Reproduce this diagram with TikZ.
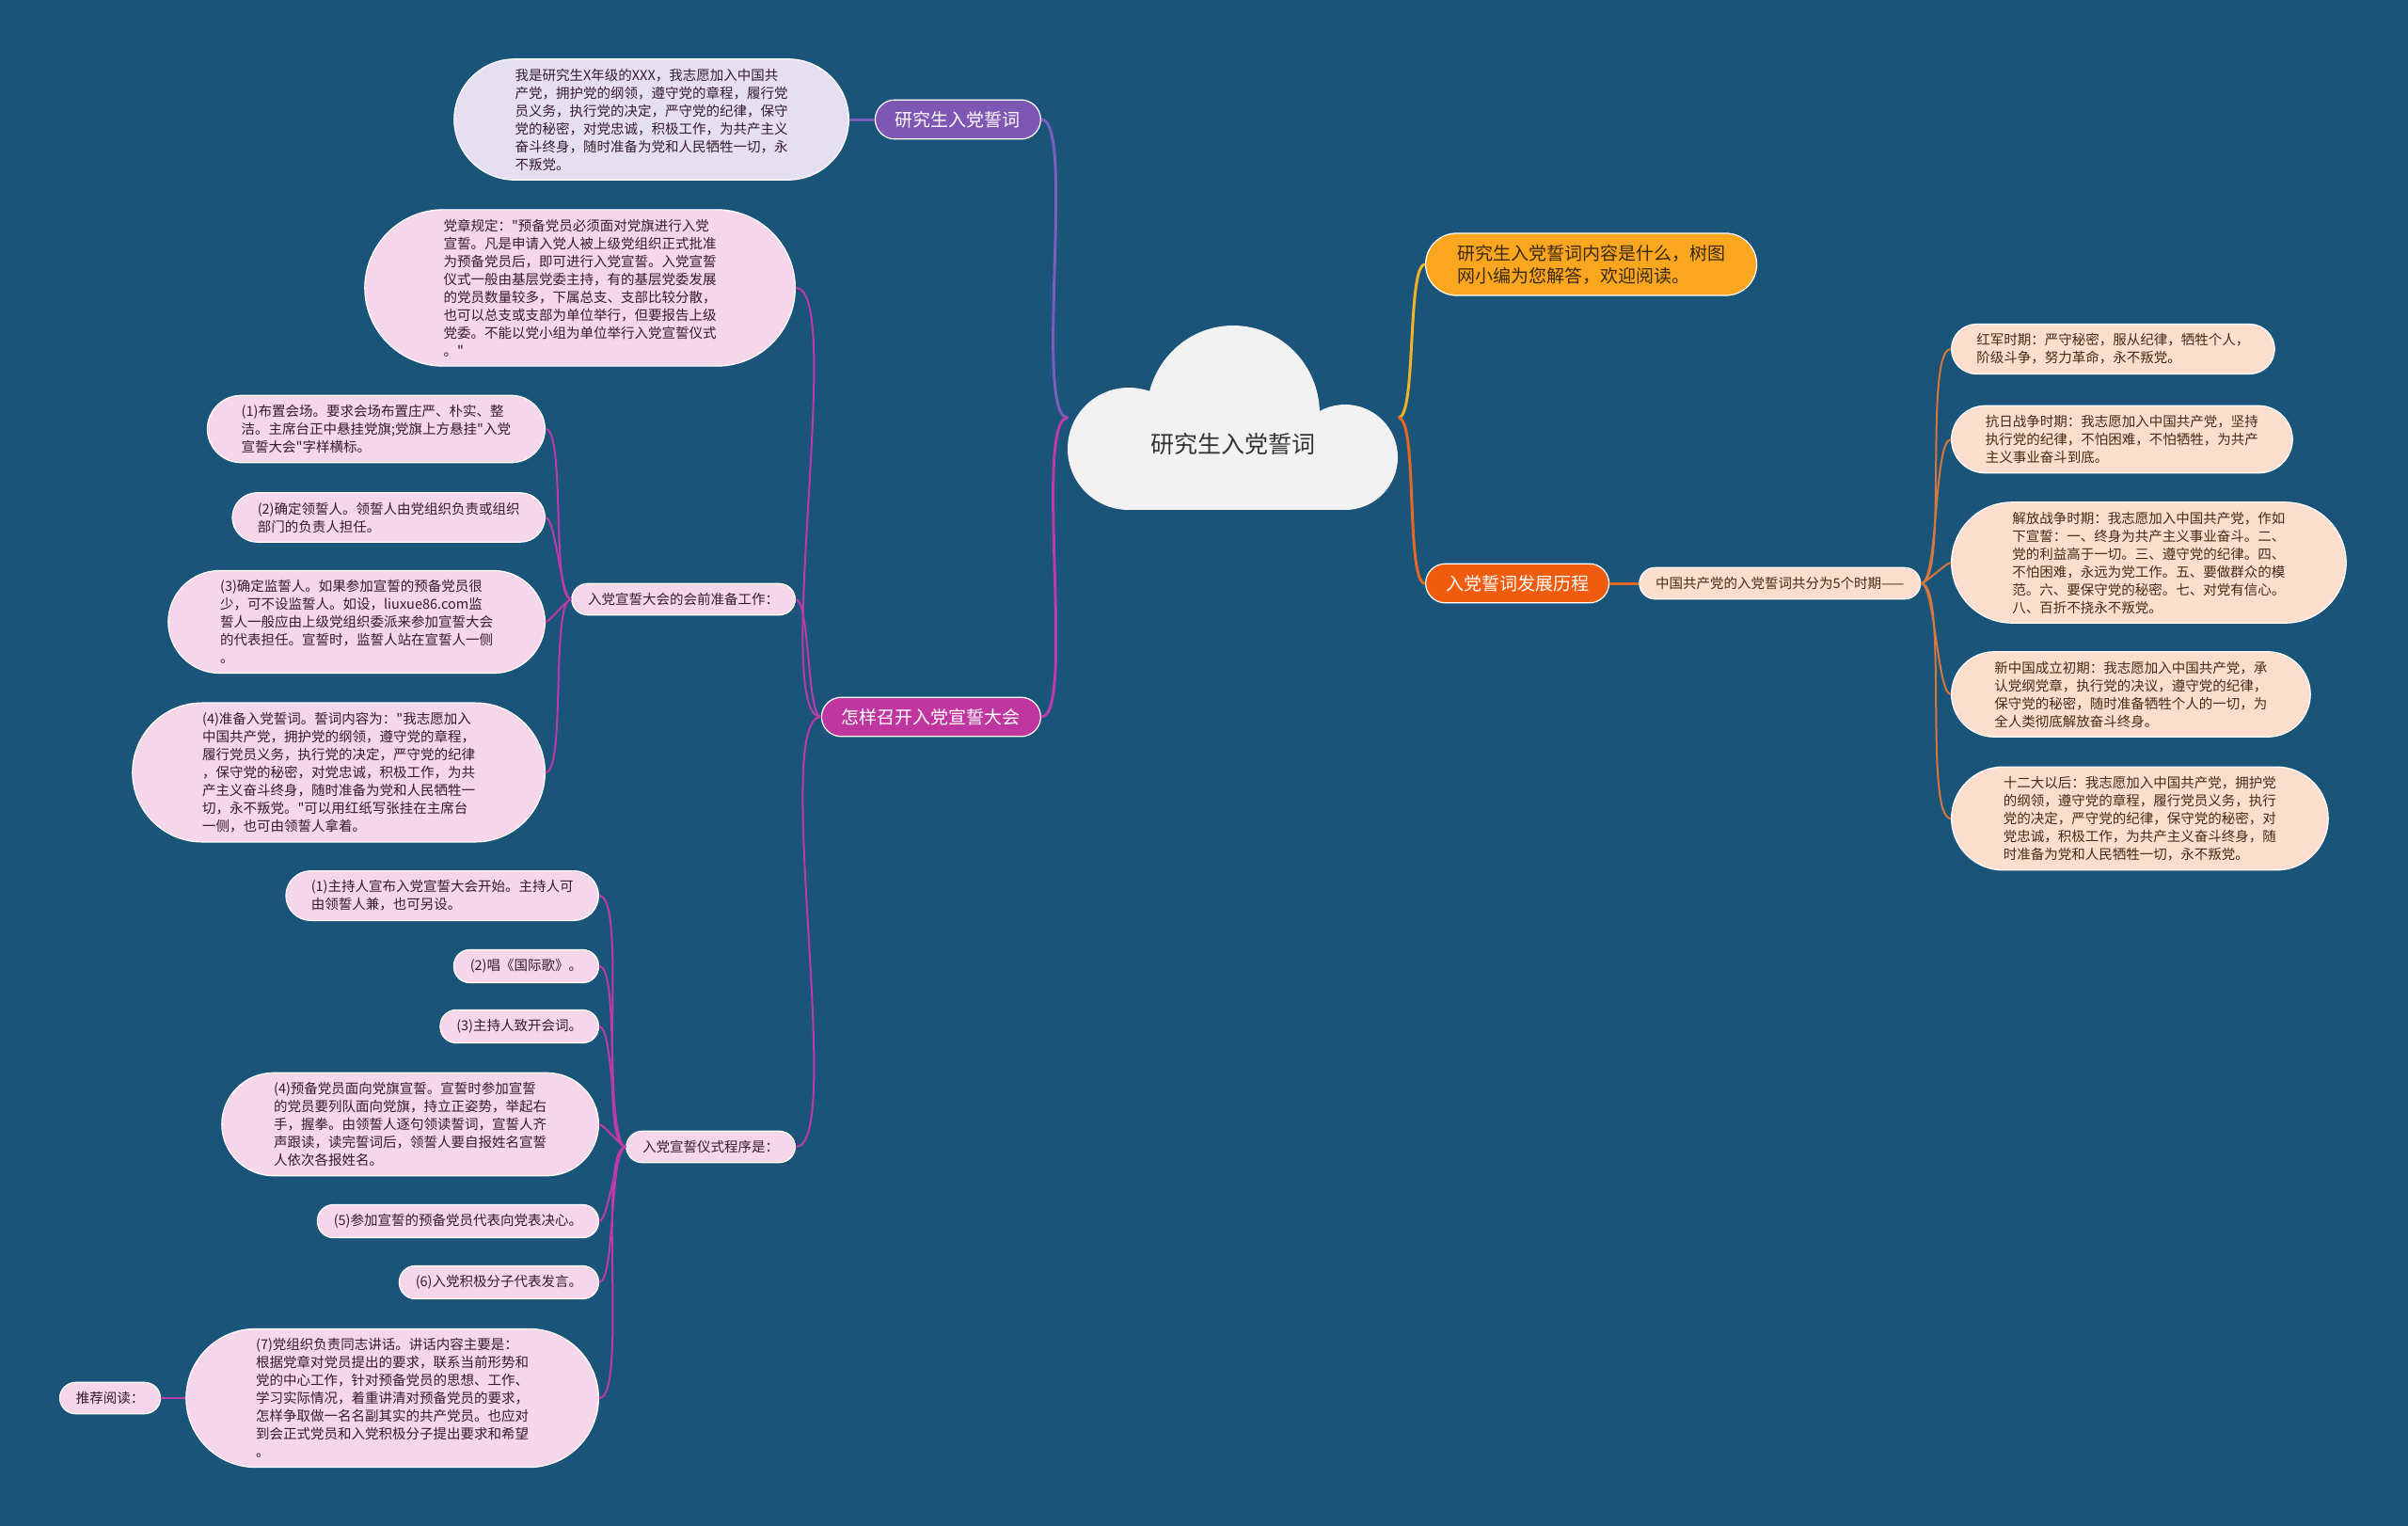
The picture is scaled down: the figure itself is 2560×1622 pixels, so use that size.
\documentclass[tikz,border=0pt]{standalone}
\usepackage{fontspec}
\newfontfamily\cjk{Noto Sans CJK SC}
\usepackage{tikz}
\usetikzlibrary{positioning}

\definecolor{bgblue}{RGB}{27,84,121}
\definecolor{cloudgray}{RGB}{242,242,242}
\definecolor{oathpurple}{RGB}{126,86,180}
\definecolor{oathlilac}{RGB}{230,223,242}
\definecolor{meetmagenta}{RGB}{192,54,160}
\definecolor{meetpink}{RGB}{245,214,234}
\definecolor{introorange}{RGB}{250,166,30}
\definecolor{historange}{RGB}{240,92,14}
\definecolor{histpeach}{RGB}{252,222,206}
\definecolor{linkpurple}{RGB}{124,92,190}
\definecolor{linkmagenta}{RGB}{190,58,168}
\definecolor{linkyellow}{RGB}{242,178,40}
\definecolor{linkorange}{RGB}{228,104,36}
\definecolor{linkbrown}{RGB}{214,120,62}
\definecolor{inkpink}{RGB}{52,28,46}
\definecolor{inkpeach}{RGB}{72,42,26}
\definecolor{inkdark}{RGB}{58,42,16}

\begin{document}
\begin{tikzpicture}[x=1pt, y=-1pt, node distance=31pt,
    every node/.style={font=\cjk},
    topic/.style={rectangle, draw=white, line width=1.2pt, rounded corners={12pt*#1+9pt},
      inner xsep={12pt*#1+9.5pt}, inner ysep=12pt, text=white, font=\cjk\fontsize{19}{24}\selectfont},
    topic/.default=1,
    leaf/.style={rectangle, draw=white, line width=1.2pt, rounded corners={9.5pt*#1+7.5pt},
      inner xsep={9.5pt*#1+7.8pt}, inner ysep=10pt, align=left, font=\cjk\fontsize{14.5}{19}\selectfont},
    leaf/.default=1,
    pinkleaf/.style={leaf=#1, fill=meetpink, text=inkpink, anchor=east},
    pinkleaf/.default=1,
    peachleaf/.style={leaf=#1, fill=histpeach, text=inkpeach, anchor=west},
    peachleaf/.default=1,
    lwire/.style={line width=2pt, out=180, in=0, looseness=.3},
    rwire/.style={line width=2pt, out=0, in=180, looseness=.3}]

  % page and background
  \useasboundingbox (0,0) rectangle (2560,1622);
  \fill[bgblue] (0,0) rectangle (2560,1622);

  % the cloud
  \fill[cloudgray] (1200,477) circle[radius=65pt];
  \fill[cloudgray] (1311,440) ellipse[x radius=92pt, y radius=94pt];
  \fill[cloudgray] (1430,486) circle[radius=56pt];
  \fill[cloudgray] (1200,470) rectangle (1430,542);
  \node[font=\cjk\fontsize{25}{30}\selectfont, text=black!80, minimum width=351pt, minimum height=196pt,
    text height=78pt, text depth=3pt] (root) at (1311,444) {研究生入党誓词};

  % left: oath
  \node[topic, fill=oathpurple, anchor=east] (oath) at (1107,127) {研究生入党誓词};
  \node[leaf=6, fill=oathlilac, text=inkpink, anchor=east] (oathtext) at (903,127) {我是研究生X年级的XXX，我志愿加入中国共\\产党，拥护党的纲领，遵守党的章程，履行党\\员义务，执行党的决定，严守党的纪律，保守\\党的秘密，对党忠诚，积极工作，为共产主义\\奋斗终身，随时准备为党和人民牺牲一切，永\\不叛党。};

  % left: meeting
  \node[topic, fill=meetmagenta, anchor=east] (meet) at (1107,762) {怎样召开入党宣誓大会};
  \node[pinkleaf=8] (rule) at (846,306) {党章规定："预备党员必须面对党旗进行入党\\宣誓。凡是申请入党人被上级党组织正式批准\\为预备党员后，即可进行入党宣誓。入党宣誓\\仪式一般由基层党委主持，有的基层党委发展\\的党员数量较多，下属总支、支部比较分散，\\也可以总支或支部为单位举行，但要报告上级\\党委。不能以党小组为单位举行入党宣誓仪式\\。"};
  \node[pinkleaf] (prep) at (846,637) {入党宣誓大会的会前准备工作：};
  \node[pinkleaf] (rite) at (846,1219) {入党宣誓仪式程序是：};

  \node[pinkleaf=3] (prepa) at (580,456) {(1)布置会场。要求会场布置庄严、朴实、整\\洁。主席台正中悬挂党旗;党旗上方悬挂"入党\\宣誓大会"字样横标。};
  \node[pinkleaf=2] (prepb) at (580,550) {(2)确定领誓人。领誓人由党组织负责或组织\\部门的负责人担任。};
  \node[pinkleaf=5] (prepc) at (580,661) {(3)确定监誓人。如果参加宣誓的预备党员很\\少，可不设监誓人。如设，liuxue86.com监\\誓人一般应由上级党组织委派来参加宣誓大会\\的代表担任。宣誓时，监誓人站在宣誓人一侧\\。};
  \node[pinkleaf=7] (prepd) at (580,821) {(4)准备入党誓词。誓词内容为："我志愿加入\\中国共产党，拥护党的纲领，遵守党的章程，\\履行党员义务，执行党的决定，严守党的纪律\\，保守党的秘密，对党忠诚，积极工作，为共\\产主义奋斗终身，随时准备为党和人民牺牲一\\切，永不叛党。"可以用红纸写张挂在主席台\\一侧，也可由领誓人拿着。};

  \node[pinkleaf=2] (ritea) at (637,952) {(1)主持人宣布入党宣誓大会开始。主持人可\\由领誓人兼，也可另设。};
  \node[pinkleaf] (riteb) at (637,1027) {(2)唱《国际歌》。};
  \node[pinkleaf] (ritec) at (637,1091) {(3)主持人致开会词。};
  \node[pinkleaf=5] (rited) at (637,1195) {(4)预备党员面向党旗宣誓。宣誓时参加宣誓\\的党员要列队面向党旗，持立正姿势，举起右\\手，握拳。由领誓人逐句领读誓词，宣誓人齐\\声跟读，读完誓词后，领誓人要自报姓名宣誓\\人依次各报姓名。};
  \node[pinkleaf] (ritee) at (637,1298) {(5)参加宣誓的预备党员代表向党表决心。};
  \node[pinkleaf] (ritef) at (637,1363) {(6)入党积极分子代表发言。};
  \node[pinkleaf=7] (riteg) at (637,1486) {(7)党组织负责同志讲话。讲话内容主要是：\\根据党章对党员提出的要求，联系当前形势和\\党的中心工作，针对预备党员的思想、工作、\\学习实际情况，着重讲清对预备党员的要求，\\怎样争取做一名名副其实的共产党员。也应对\\到会正式党员和入党积极分子提出要求和希望\\。};
  \node[pinkleaf, left=26pt of riteg] (more) {推荐阅读：};

  % right: intro and history
  \node[topic=2, fill=introorange, text=inkdark, align=left, anchor=west] (intro) at (1515,281) {研究生入党誓词内容是什么，树图\\网小编为您解答，欢迎阅读。};
  \node[topic, fill=historange, anchor=west] (hist) at (1515,620) {入党誓词发展历程};
  \node[leaf, fill=histpeach, text=inkpeach, right=31pt of hist] (five) {中国共产党的入党誓词共分为5个时期——};

  \node[peachleaf=2] (hista) at (2074,371) {红军时期：严守秘密，服从纪律，牺牲个人，\\阶级斗争，努力革命，永不叛党。};
  \node[peachleaf=3] (histb) at (2074,467) {抗日战争时期：我志愿加入中国共产党，坚持\\执行党的纪律，不怕困难，不怕牺牲，为共产\\主义事业奋斗到底。};
  \node[peachleaf=6] (histc) at (2074,598) {解放战争时期：我志愿加入中国共产党，作如\\下宣誓：一、终身为共产主义事业奋斗。二、\\党的利益高于一切。三、遵守党的纪律。四、\\不怕困难，永远为党工作。五、要做群众的模\\范。六、要保守党的秘密。七、对党有信心。\\八、百折不挠永不叛党。};
  \node[peachleaf=4] (histd) at (2074,738) {新中国成立初期：我志愿加入中国共产党，承\\认党纲党章，执行党的决议，遵守党的纪律，\\保守党的秘密，随时准备牺牲个人的一切，为\\全人类彻底解放奋斗终身。};
  \node[peachleaf=5] (histe) at (2074,870) {十二大以后：我志愿加入中国共产党，拥护党\\的纲领，遵守党的章程，履行党员义务，执行\\党的决定，严守党的纪律，保守党的秘密，对\\党忠诚，积极工作，为共产主义奋斗终身，随\\时准备为党和人民牺牲一切，永不叛党。};

  % connectors
  \draw[lwire, linkpurple, line width=3pt] (root.west) to (oath.east);
  \draw[lwire, linkmagenta, line width=3pt] (root.west) to (meet.east);
  \draw[rwire, linkyellow, line width=3pt] (root.east) to (intro.west);
  \draw[rwire, linkorange, line width=3pt] (root.east) to (hist.west);

  \draw[lwire, linkpurple, line width=3pt] (oath.west) to (oathtext.east);

  \draw[lwire, linkmagenta] (meet.west) to (rule.east);
  \draw[lwire, linkmagenta] (meet.west) to (prep.east);
  \draw[lwire, linkmagenta] (meet.west) to (rite.east);

  \draw[lwire, linkmagenta] (prep.west) to (prepa.east);
  \draw[lwire, linkmagenta] (prep.west) to (prepb.east);
  \draw[lwire, linkmagenta] (prep.west) to (prepc.east);
  \draw[lwire, linkmagenta] (prep.west) to (prepd.east);

  \draw[lwire, linkmagenta] (rite.west) to (ritea.east);
  \draw[lwire, linkmagenta] (rite.west) to (riteb.east);
  \draw[lwire, linkmagenta] (rite.west) to (ritec.east);
  \draw[lwire, linkmagenta] (rite.west) to (rited.east);
  \draw[lwire, linkmagenta] (rite.west) to (ritee.east);
  \draw[lwire, linkmagenta] (rite.west) to (ritef.east);
  \draw[lwire, linkmagenta] (rite.west) to (riteg.east);
  \draw[lwire, linkmagenta] (riteg.west) to (more.east);

  \draw[rwire, linkorange, line width=3pt] (hist.east) to (five.west);
  \draw[rwire, linkbrown] (five.east) to (hista.west);
  \draw[rwire, linkbrown] (five.east) to (histb.west);
  \draw[rwire, linkbrown] (five.east) to (histc.west);
  \draw[rwire, linkbrown] (five.east) to (histd.west);
  \draw[rwire, linkbrown] (five.east) to (histe.west);
\end{tikzpicture}
\end{document}
